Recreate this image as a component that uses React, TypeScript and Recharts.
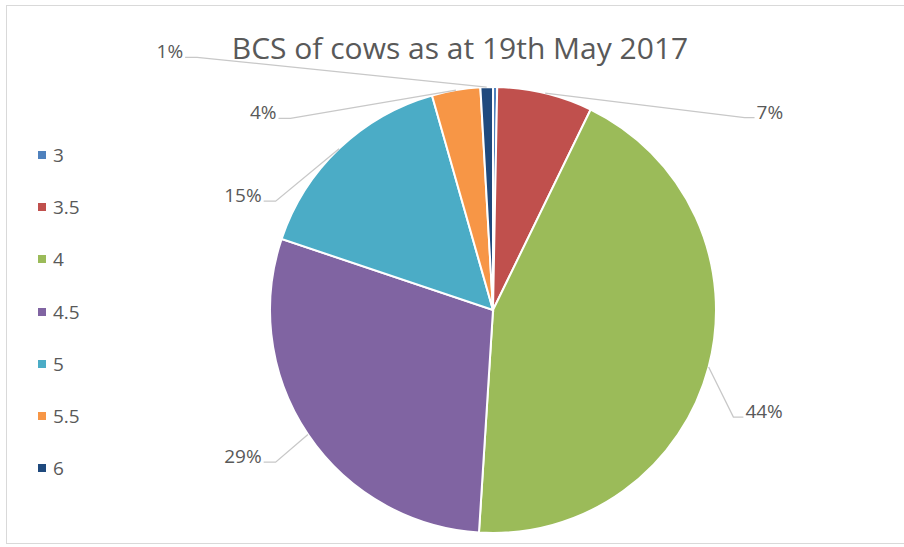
import React from 'react';
import { PieChart, Pie, Cell } from 'recharts';

const categories = ['3', '3.5', '4', '4.5', '5', '5.5', '6'];
const shares = [0.3, 6.9, 43.7, 29.1, 15.4, 3.5, 0.9];
const colors = ['#4F81BD', '#C0504D', '#9BBB59', '#8064A2', '#4BACC6', '#F79646', '#1F497D'];
const title = 'BCS of cows as at 19th May 2017';

// leader-line elbow placement: angle clockwise from 12 o'clock, radius as multiple of outer radius
const labelAngles: (number | null)[] = [null, 52.6, 114, 235, 296.6, 313.4, 310.5];
const labelRadii: (number | null)[] = [null, 1.42, 1.18, 1.19, 1.09, 1.25, 1.745];

const data = categories.map((c, i) => ({ name: c, value: shares[i] }));

const FONT = '"Open Sans", sans-serif';
const TEXT = '#595959';

const renderLabel = (props: any) => {
  const { cx, cy, midAngle, outerRadius, percent, index } = props;
  const ang = labelAngles[index];
  const rf = labelRadii[index];
  if (ang == null || rf == null) return null;
  const RAD = Math.PI / 180;
  const sx = cx + outerRadius * Math.cos(-midAngle * RAD);
  const sy = cy + outerRadius * Math.sin(-midAngle * RAD);
  const r = outerRadius * rf;
  const ex = cx + r * Math.sin(ang * RAD);
  const ey = cy - r * Math.cos(ang * RAD);
  const right = ex > cx;
  const hx = ex + (right ? 10 : -12);
  return (
    <g key={`lbl-${index}`}>
      <polyline
        points={`${sx},${sy} ${ex},${ey} ${hx},${ey}`}
        stroke="#C8C8C8"
        strokeWidth={1.3}
        fill="none"
      />
      <text
        x={hx + (right ? 2 : -2)}
        y={ey + 1}
        textAnchor={right ? 'start' : 'end'}
        fill={TEXT}
        fontFamily={FONT}
        fontSize={19}
      >{`${Math.round(percent * 100)}%`}</text>
    </g>
  );
};

const LegendBox = () => (
  <div style={{ position: 'absolute', left: 38, top: 129, fontFamily: FONT, fontSize: 19, color: TEXT }}>
    {categories.map((c, i) => (
      <div key={c} style={{ height: 52.2, display: 'flex', alignItems: 'center' }}>
        <span style={{ display: 'inline-block', width: 8, height: 8, background: colors[i], marginRight: 7 }} />
        <span>{c}</span>
      </div>
    ))}
  </div>
);

export default function App() {
  return (
    <div style={{ position: 'absolute', left: 0, top: 0, width: 904, height: 547, background: '#fff', overflow: 'hidden' }}>
      <div style={{ position: 'absolute', left: 6, top: 5, width: 905, height: 539, border: '1px solid #D9D9D9', boxSizing: 'border-box' }} />
      <div style={{ position: 'absolute', left: 0, width: 920, top: 26, textAlign: 'center', fontFamily: FONT, fontSize: 30, color: TEXT, lineHeight: '44px' }}>
        {title}
      </div>
      <div style={{ position: 'absolute', left: 0, top: 0 }}>
        <PieChart width={904} height={547} margin={{ top: 0, right: 0, bottom: 0, left: 0 }}>
          <Pie
            data={data}
            dataKey="value"
            nameKey="name"
            cx={493}
            cy={310}
            outerRadius={223}
            startAngle={90}
            endAngle={-270}
            stroke="#fff"
            strokeWidth={2}
            label={renderLabel}
            labelLine={false}
            isAnimationActive={false}
          >
            {data.map((d, i) => (
              <Cell key={d.name} fill={colors[i]} />
            ))}
          </Pie>
        </PieChart>
      </div>
      <LegendBox />
    </div>
  );
}
